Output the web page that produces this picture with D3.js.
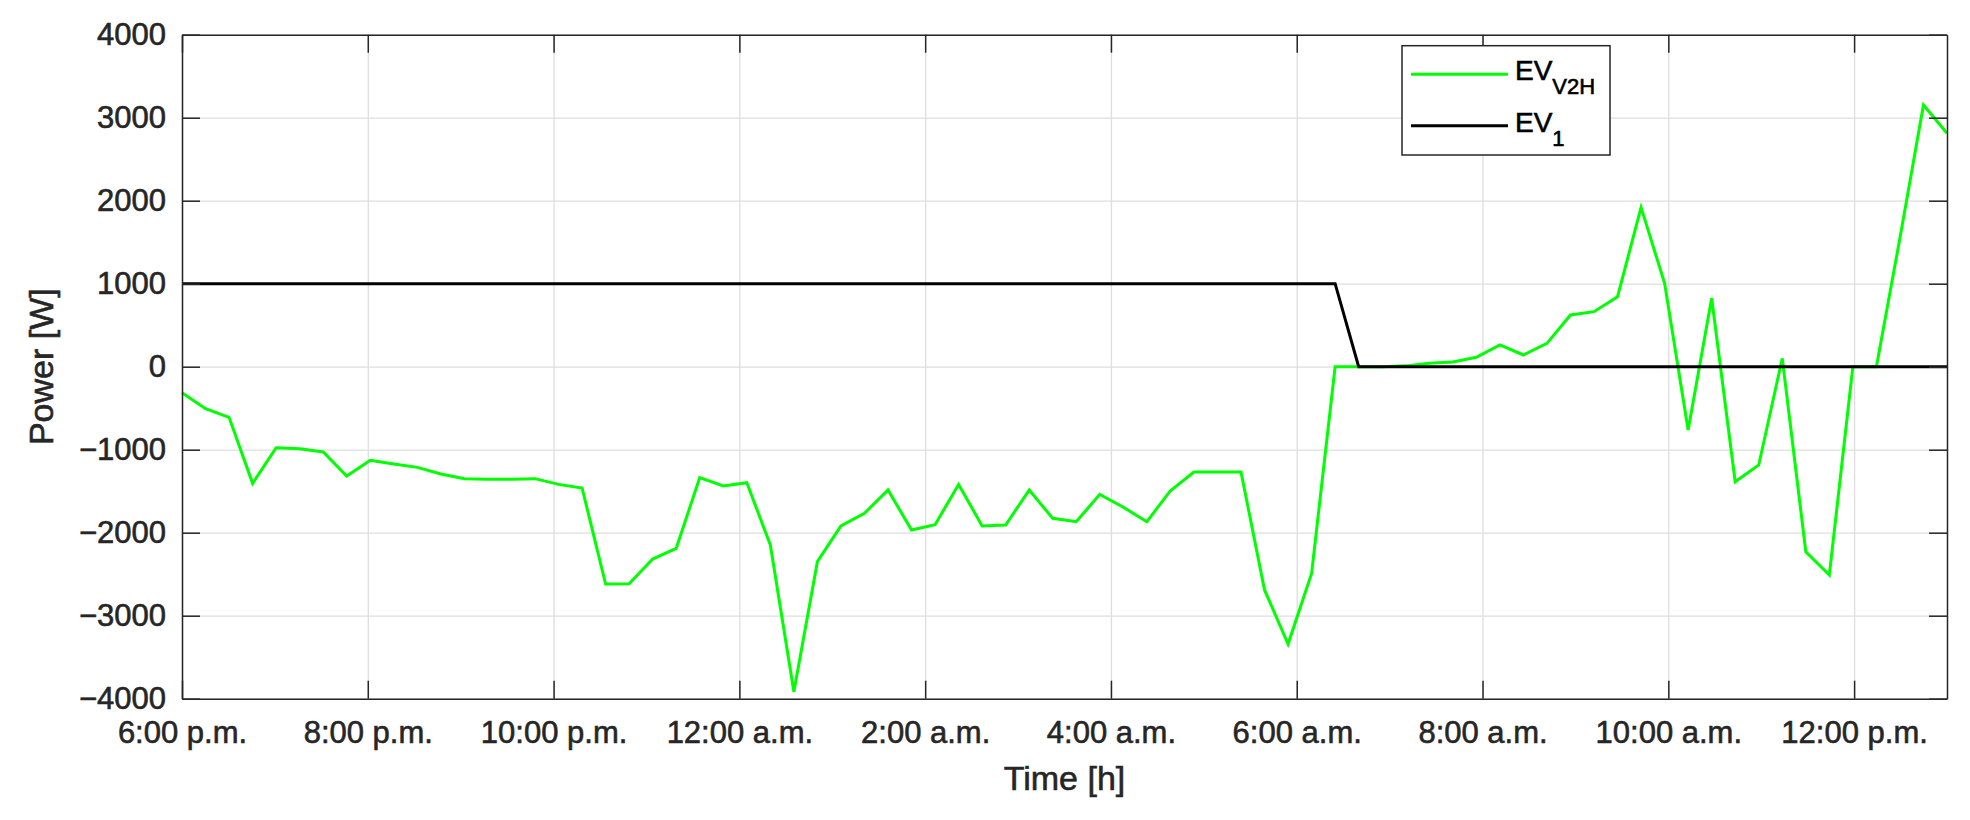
<!DOCTYPE html>
<html><head><meta charset="utf-8">
<script src="https://cdn.jsdelivr.net/npm/d3@7"></script>
<style>
body{margin:0;background:#fff}
svg text{font-family:"Liberation Sans",Arial,Helvetica,sans-serif}
</style>
</head><body>
<svg id="chart" width="1970" height="820"></svg>
<script>
// ---- data ----
const xTickHours = [0, 2, 4, 6, 8, 10, 12, 14, 16, 18];
const xTickLabels = ["6:00 p.m.", "8:00 p.m.", "10:00 p.m.", "12:00 a.m.", "2:00 a.m.", "4:00 a.m.", "6:00 a.m.", "8:00 a.m.", "10:00 a.m.", "12:00 p.m."];
const yTicks = [-4000, -3000, -2000, -1000, 0, 1000, 2000, 3000, 4000];
const yTickLabels = ["\u22124000", "\u22123000", "\u22122000", "\u22121000", "0", "1000", "2000", "3000", "4000"];
const spanHours = 19; // 6:00 p.m. to 1:00 p.m.
const seriesNames = ["EV", "EV"];
const seriesSubs = ["V2H", "1"];
const evV2H = [
  -313, -506, -610, -1405, -976, -988, -1028, -1317, -1128, -1172,
  -1213, -1293, -1349, -1357, -1357, -1349, -1418, -1461, -2618, -2614,
  -2317, -2188, -1337, -1437, -1397, -2148, -3916, -2349, -1919, -1767,
  -1486, -1968, -1904, -1418, -1919, -1907, -1486, -1827, -1867, -1538,
  -1694, -1867, -1494, -1269, -1269, -1269, -2690, -3341, -2490, 0,
  0, 0, 10, 41, 57, 113, 263, 141, 281, 623,
  663, 843, 1920, 1004, -763, 824, -1386, -1184, 101, -2229,
  -2510, 0, 0, 1550, 3153, 2812
];
const ev1 = [
  1000, 1000, 1000, 1000, 1000, 1000, 1000, 1000, 1000, 1000,
  1000, 1000, 1000, 1000, 1000, 1000, 1000, 1000, 1000, 1000,
  1000, 1000, 1000, 1000, 1000, 1000, 1000, 1000, 1000, 1000,
  1000, 1000, 1000, 1000, 1000, 1000, 1000, 1000, 1000, 1000,
  1000, 1000, 1000, 1000, 1000, 1000, 1000, 1000, 1000, 1000,
  0, 0, 0, 0, 0, 0, 0, 0, 0, 0,
  0, 0, 0, 0, 0, 0, 0, 0, 0, 0,
  0, 0, 0, 0, 0, 0
];

// ---- layout ----
const L = 182, R = 1947, T = 34.7, B = 698.7;
const W = R - L, H = B - T;
const axisColor = "#262626";
const gridColor = "#dedede";
const tickFont = 31, labelFont = 34;

const svg = d3.select("#chart");
const x = d3.scaleLinear().domain([0, spanHours]).range([L, R]);
const y = d3.scaleLinear().domain([-4000, 4000]).range([B, T]);
const tOf = i => i * spanHours / (evV2H.length - 1);

// grid
svg.append("g").attr("transform", `translate(0,${B})`)
  .call(d3.axisBottom(x).tickValues(xTickHours).tickSize(-H).tickFormat(""))
  .call(g => g.select(".domain").remove())
  .call(g => g.selectAll("line").attr("stroke", gridColor).attr("stroke-width", 1.3));
svg.append("g").attr("transform", `translate(${L},0)`)
  .call(d3.axisLeft(y).tickValues(yTicks).tickSize(-W).tickFormat(""))
  .call(g => g.select(".domain").remove())
  .call(g => g.selectAll("line").attr("stroke", gridColor).attr("stroke-width", 1.3));

// lines
const line = d3.line().x((d, i) => x(tOf(i))).y(d => y(d));
svg.append("path").datum(evV2H).attr("d", line)
  .attr("fill", "none").attr("stroke", "#00ff00").attr("stroke-width", 3).attr("stroke-linejoin", "miter");
svg.append("path").datum(ev1).attr("d", line)
  .attr("fill", "none").attr("stroke", "#000000").attr("stroke-width", 3).attr("stroke-linejoin", "miter");

// axes
function styleAxis(g) {
  g.select(".domain").attr("stroke", axisColor).attr("stroke-width", 1.5);
  g.selectAll(".tick line").attr("stroke", axisColor).attr("stroke-width", 1.5);
  g.selectAll("text").attr("fill", axisColor).attr("font-size", tickFont)
    .attr("stroke", axisColor).attr("stroke-width", 0.6);
}
svg.append("g").attr("transform", `translate(0,${B})`)
  .call(d3.axisBottom(x).tickValues(xTickHours).tickFormat((d, i) => xTickLabels[i])
    .tickSizeInner(-18).tickSizeOuter(0).tickPadding(22))
  .call(styleAxis);
svg.append("g").attr("transform", `translate(0,${T})`)
  .call(d3.axisTop(x).tickValues(xTickHours).tickFormat("").tickSizeInner(-18).tickSizeOuter(0))
  .call(styleAxis);
svg.append("g").attr("transform", `translate(${L},0)`)
  .call(d3.axisLeft(y).tickValues(yTicks).tickFormat((d, i) => yTickLabels[i])
    .tickSizeInner(-18).tickSizeOuter(0).tickPadding(16))
  .call(styleAxis);
svg.append("g").attr("transform", `translate(${R},0)`)
  .call(d3.axisRight(y).tickValues(yTicks).tickFormat("").tickSizeInner(-18).tickSizeOuter(0))
  .call(styleAxis);

// axis labels
svg.append("text").attr("x", (L + R) / 2).attr("y", 790)
  .attr("text-anchor", "middle").attr("font-size", labelFont).attr("fill", axisColor)
  .attr("stroke", axisColor).attr("stroke-width", 0.6).text("Time [h]");
svg.append("text").attr("transform", `translate(52.7,${(T + B) / 2}) rotate(-90)`)
  .attr("text-anchor", "middle").attr("font-size", labelFont).attr("fill", axisColor)
  .attr("stroke", axisColor).attr("stroke-width", 0.6).text("Power [W]");

// legend
const lg = svg.append("g");
lg.append("rect").attr("x", 1402).attr("y", 45.7).attr("width", 208).attr("height", 109.3)
  .attr("fill", "#fff").attr("stroke", axisColor).attr("stroke-width", 1.5);
const legendColors = ["#00ff00", "#000000"];
const legendY = [74.3, 125.7];
legendColors.forEach((c, k) => {
  lg.append("line").attr("x1", 1411).attr("x2", 1508).attr("y1", legendY[k]).attr("y2", legendY[k])
    .attr("stroke", c).attr("stroke-width", 3);
  const t = lg.append("text").attr("x", 1515).attr("y", legendY[k] + 6).attr("fill", "#000")
    .attr("stroke", "#000").attr("stroke-width", 0.6).attr("font-size", 28);
  t.append("tspan").text(seriesNames[k]);
  t.append("tspan").attr("dy", 14).attr("font-size", 22).text(seriesSubs[k]);
});
</script>
</body></html>
